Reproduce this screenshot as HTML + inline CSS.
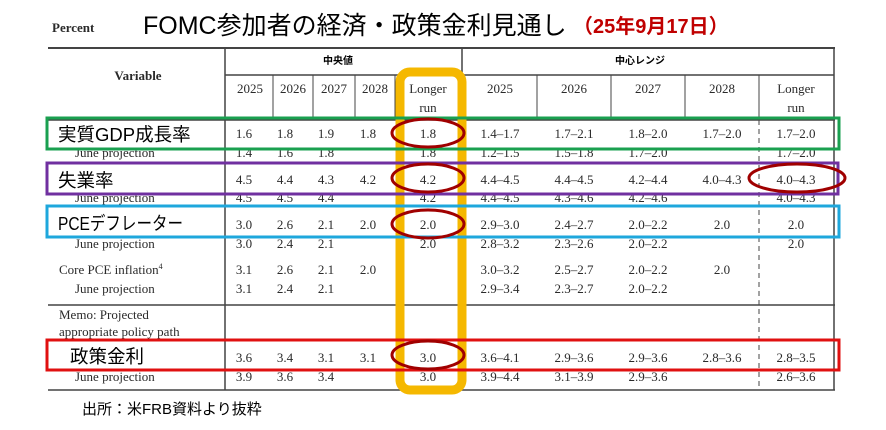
<!DOCTYPE html>
<html><head><meta charset="utf-8"><style>
html,body{margin:0;padding:0;background:#fff;}
svg{display:block}
.s{font-family:"Liberation Serif",serif;font-size:13px;fill:#2a2a2a;}
.j{font-family:"Liberation Sans","Noto Sans CJK JP",sans-serif;}
</style></head><body>
<svg width="886" height="430" viewBox="0 0 886 430" xmlns="http://www.w3.org/2000/svg">
<text x="52" y="32" class="s" font-size="14" font-weight="bold" fill="#444">Percent</text>
<text x="143" y="34" class="j" font-size="25" fill="#000">FOMC参加者の経済・政策金利見通し</text>
<text x="573" y="33" class="j" font-size="20" font-weight="bold" fill="#c00000">（25年9月17日）</text>
<g stroke="#444" fill="none">
<line x1="48" y1="48" x2="835" y2="48" stroke-width="2"/>
<line x1="225" y1="48" x2="225" y2="390" stroke-width="1.5"/>
<line x1="834" y1="48" x2="834" y2="390" stroke-width="1.5"/>
<line x1="462" y1="48" x2="462" y2="390" stroke-width="1.5"/>
<line x1="225" y1="75" x2="834" y2="75" stroke-width="1.5"/>
<line x1="48" y1="120" x2="835" y2="120" stroke-width="1.5"/>
<line x1="48" y1="305" x2="835" y2="305" stroke-width="1.5"/>
<line x1="48" y1="390" x2="835" y2="390" stroke-width="1.5"/>
<line x1="273" y1="75" x2="273" y2="120"/><line x1="313" y1="75" x2="313" y2="120"/>
<line x1="355" y1="75" x2="355" y2="120"/><line x1="395" y1="75" x2="395" y2="120"/>
<line x1="537" y1="75" x2="537" y2="120"/><line x1="611" y1="75" x2="611" y2="120"/>
<line x1="685" y1="75" x2="685" y2="120"/><line x1="759" y1="75" x2="759" y2="120"/>
<line x1="759" y1="120" x2="759" y2="390" stroke-dasharray="5,4"/>
</g>
<text x="338" y="64" class="j" font-size="10" font-weight="bold" text-anchor="middle">中央値</text>
<text x="640" y="64" class="j" font-size="10" font-weight="bold" text-anchor="middle">中心レンジ</text>
<text x="138" y="80" class="s" font-size="14" font-weight="bold" text-anchor="middle" fill="#555">Variable</text>
<g class="s" text-anchor="middle">
<text x="250" y="93">2025</text><text x="293" y="93">2026</text><text x="334" y="93">2027</text><text x="375" y="93">2028</text>
<text x="428" y="93">Longer</text><text x="428" y="112">run</text>
<text x="500" y="93">2025</text><text x="574" y="93">2026</text><text x="648" y="93">2027</text><text x="722" y="93">2028</text>
<text x="796" y="93">Longer</text><text x="796" y="112">run</text>
</g>
<g class="s" text-anchor="middle">
<text x="244" y="138">1.6</text><text x="285" y="138">1.8</text><text x="326" y="138">1.9</text><text x="368" y="138">1.8</text><text x="428" y="138">1.8</text>
<text x="500" y="138">1.4–1.7</text><text x="574" y="138">1.7–2.1</text><text x="648" y="138">1.8–2.0</text><text x="722" y="138">1.7–2.0</text><text x="796" y="138">1.7–2.0</text>
<text x="244" y="157">1.4</text><text x="285" y="157">1.6</text><text x="326" y="157">1.8</text><text x="428" y="157">1.8</text>
<text x="500" y="157">1.2–1.5</text><text x="574" y="157">1.5–1.8</text><text x="648" y="157">1.7–2.0</text><text x="796" y="157">1.7–2.0</text>
<text x="244" y="184">4.5</text><text x="285" y="184">4.4</text><text x="326" y="184">4.3</text><text x="368" y="184">4.2</text><text x="428" y="184">4.2</text>
<text x="500" y="184">4.4–4.5</text><text x="574" y="184">4.4–4.5</text><text x="648" y="184">4.2–4.4</text><text x="722" y="184">4.0–4.3</text><text x="796" y="184">4.0–4.3</text>
<text x="244" y="202">4.5</text><text x="285" y="202">4.5</text><text x="326" y="202">4.4</text><text x="428" y="202">4.2</text>
<text x="500" y="202">4.4–4.5</text><text x="574" y="202">4.3–4.6</text><text x="648" y="202">4.2–4.6</text><text x="796" y="202">4.0–4.3</text>
<text x="244" y="229">3.0</text><text x="285" y="229">2.6</text><text x="326" y="229">2.1</text><text x="368" y="229">2.0</text><text x="428" y="229">2.0</text>
<text x="500" y="229">2.9–3.0</text><text x="574" y="229">2.4–2.7</text><text x="648" y="229">2.0–2.2</text><text x="722" y="229">2.0</text><text x="796" y="229">2.0</text>
<text x="244" y="248">3.0</text><text x="285" y="248">2.4</text><text x="326" y="248">2.1</text><text x="428" y="248">2.0</text>
<text x="500" y="248">2.8–3.2</text><text x="574" y="248">2.3–2.6</text><text x="648" y="248">2.0–2.2</text><text x="796" y="248">2.0</text>
<text x="244" y="274">3.1</text><text x="285" y="274">2.6</text><text x="326" y="274">2.1</text><text x="368" y="274">2.0</text>
<text x="500" y="274">3.0–3.2</text><text x="574" y="274">2.5–2.7</text><text x="648" y="274">2.0–2.2</text><text x="722" y="274">2.0</text>
<text x="244" y="293">3.1</text><text x="285" y="293">2.4</text><text x="326" y="293">2.1</text>
<text x="500" y="293">2.9–3.4</text><text x="574" y="293">2.3–2.7</text><text x="648" y="293">2.0–2.2</text>
<text x="244" y="362">3.6</text><text x="285" y="362">3.4</text><text x="326" y="362">3.1</text><text x="368" y="362">3.1</text><text x="428" y="362">3.0</text>
<text x="500" y="362">3.6–4.1</text><text x="574" y="362">2.9–3.6</text><text x="648" y="362">2.9–3.6</text><text x="722" y="362">2.8–3.6</text><text x="796" y="362">2.8–3.5</text>
<text x="244" y="381">3.9</text><text x="285" y="381">3.6</text><text x="326" y="381">3.4</text><text x="428" y="381">3.0</text>
<text x="500" y="381">3.9–4.4</text><text x="574" y="381">3.1–3.9</text><text x="648" y="381">2.9–3.6</text><text x="796" y="381">2.6–3.6</text>
</g>
<g class="s">
<text x="75" y="157">June projection</text><text x="75" y="202">June projection</text><text x="75" y="248">June projection</text>
<text x="59" y="274">Core PCE inflation<tspan font-size="8" dy="-5">4</tspan></text><text x="75" y="293">June projection</text>
<text x="59" y="319">Memo: Projected</text><text x="59" y="336">appropriate policy path</text>
<text x="75" y="381">June projection</text>
</g>
<rect x="400" y="72" width="62" height="318" rx="10" fill="none" stroke="#f5b800" stroke-width="9"/>
<g fill="none" stroke-width="3">
<rect x="47" y="118" width="792" height="31" stroke="#1aa050"/>
<rect x="47" y="163" width="791" height="31" stroke="#7030a0"/>
<rect x="47" y="206" width="792" height="31" stroke="#1ea7dc"/>
<rect x="47" y="340" width="792" height="30" stroke="#e01010"/>
</g>
<g fill="none" stroke="#a00000" stroke-width="3">
<ellipse cx="428" cy="133" rx="36" ry="14"/><ellipse cx="428" cy="178" rx="36" ry="14"/>
<ellipse cx="428" cy="224" rx="36" ry="14"/><ellipse cx="428" cy="355" rx="36" ry="14"/>
<ellipse cx="797" cy="178" rx="48" ry="14"/>
</g>
<g class="j" font-size="18.5" fill="#000">
<text x="58" y="141">実質GDP成長率</text>
<text x="58" y="187">失業率</text>
<text x="58" y="230" textLength="125" lengthAdjust="spacingAndGlyphs">PCEデフレーター</text>
<text x="70" y="363">政策金利</text>
</g>
<text x="82" y="414" class="j" font-size="15" fill="#000">出所：米FRB資料より抜粋</text>
</svg>
</body></html>
